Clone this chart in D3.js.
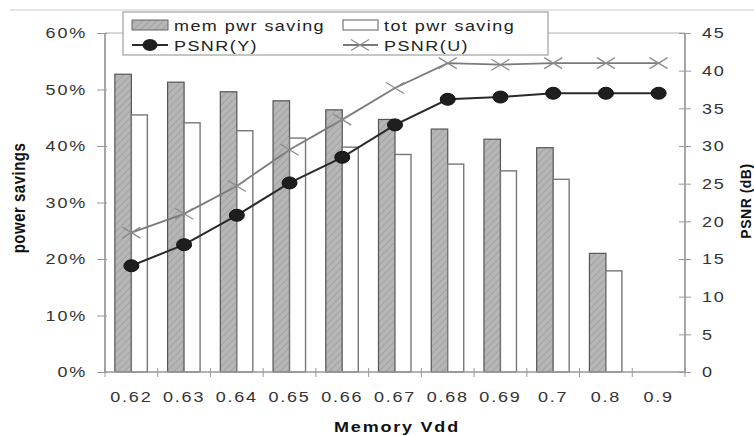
<!DOCTYPE html>
<html>
<head>
<meta charset="utf-8">
<script src="https://cdn.jsdelivr.net/npm/d3@7"></script>
<style>
  html, body { margin: 0; padding: 0; background: #fff; }
  svg { display: block; }
  text { font-family: "Liberation Sans", Arial, sans-serif; }
</style>
</head>
<body>
<svg id="chart" width="754" height="436"></svg>
<script>
const categories = ["0.62", "0.63", "0.64", "0.65", "0.66", "0.67", "0.68", "0.69", "0.7", "0.8", "0.9"];
const memSaving = [52.7, 51.3, 49.6, 48.0, 46.4, 44.7, 43.0, 41.2, 39.7, 21.0, 0];
const totSaving = [45.5, 44.1, 42.7, 41.4, 39.8, 38.5, 36.8, 35.6, 34.1, 17.9, 0];
const psnrY = [14.1, 16.9, 20.8, 25.1, 28.5, 32.8, 36.2, 36.5, 37.0, 37.0, 37.0];
const psnrU = [18.5, 21.0, 24.7, 29.5, 33.5, 37.7, 41.0, 40.8, 41.0, 41.0, 41.0];
const leftTicks = [0, 10, 20, 30, 40, 50, 60];
const rightTicks = [0, 5, 10, 15, 20, 25, 30, 35, 40, 45];

const svg = d3.select("#chart");
const L = 105, R = 685, T = 33, B = 372;
const SX = 1.2;

const x = d3.scaleBand().domain(categories).range([L, R]).paddingInner(0).paddingOuter(0);
const yL = d3.scaleLinear().domain([0, 60]).range([B, T]);
const yR = d3.scaleLinear().domain([0, 45]).range([B, T]);

function stretch(sel) {
  sel.each(function () {
    const t = d3.select(this);
    const xx = +t.attr("x") || 0;
    t.attr("transform", `translate(${xx},0) scale(${SX},1) translate(${-xx},0)`);
  });
}

// defs: hatch pattern
const defs = svg.append("defs");
const pat = defs.append("pattern").attr("id", "hatch").attr("patternUnits", "userSpaceOnUse")
  .attr("width", 5).attr("height", 5).attr("patternTransform", "rotate(45)");
pat.append("rect").attr("width", 5).attr("height", 5).attr("fill", "#b6b6b6");
pat.append("line").attr("x1", 0).attr("y1", 0).attr("x2", 0).attr("y2", 5)
  .attr("stroke", "#a2a2a2").attr("stroke-width", 2);

// chart area top border
svg.append("line").attr("x1", 10).attr("x2", 754).attr("y1", 10).attr("y2", 10)
  .attr("stroke", "#dcdcdc").attr("stroke-width", 1.5);

// plot area top border
svg.append("line").attr("x1", L).attr("x2", R).attr("y1", T).attr("y2", T)
  .attr("stroke", "#b0b0b0").attr("stroke-width", 1.2);

// bars
const barW = 16.5;
const gBars = svg.append("g");
gBars.selectAll("rect.mem").data(categories.map((c, i) => ({ c, v: memSaving[i] })).filter(d => d.v > 0))
  .join("rect").attr("class", "mem")
  .attr("x", d => x(d.c) + x.bandwidth() / 2 - barW)
  .attr("width", barW)
  .attr("y", d => yL(d.v))
  .attr("height", d => yL(0) - yL(d.v))
  .attr("fill", "url(#hatch)").attr("stroke", "#555").attr("stroke-width", 1.2);
gBars.selectAll("rect.tot").data(categories.map((c, i) => ({ c, v: totSaving[i] })).filter(d => d.v > 0))
  .join("rect").attr("class", "tot")
  .attr("x", d => x(d.c) + x.bandwidth() / 2)
  .attr("width", barW - 0.5)
  .attr("y", d => yL(d.v))
  .attr("height", d => yL(0) - yL(d.v))
  .attr("fill", "#fff").attr("stroke", "#777").attr("stroke-width", 1.4);

// axes
const axL = svg.append("g").attr("transform", `translate(${L},0)`)
  .call(d3.axisLeft(yL).tickValues(leftTicks).tickSize(8).tickPadding(10).tickFormat(d => d + "%"));
axL.select(".domain").attr("stroke", "#888").attr("stroke-width", 1.5).attr("d", `M0,${T}V${B}`);
axL.selectAll(".tick line").attr("x1", 2).attr("stroke", "#999");
axL.selectAll(".tick text").attr("font-size", 15).attr("fill", "#333").attr("letter-spacing", 1.5)
  .attr("font-family", "Liberation Sans, Arial, sans-serif").call(stretch);

const axR = svg.append("g").attr("transform", `translate(${R},0)`)
  .call(d3.axisRight(yR).tickValues(rightTicks).tickSize(6).tickPadding(11));
axR.select(".domain").attr("stroke", "#888").attr("stroke-width", 1.5).attr("d", `M0,${T}V${B}`);
axR.selectAll(".tick line").attr("x1", -6).attr("stroke", "#999");
axR.selectAll(".tick text").attr("font-size", 15).attr("fill", "#333").attr("letter-spacing", 1.5)
  .attr("font-family", "Liberation Sans, Arial, sans-serif").call(stretch);

const axB = svg.append("g").attr("transform", `translate(0,${B})`)
  .call(d3.axisBottom(x).tickSize(0).tickPadding(19));
axB.select(".domain").attr("stroke", "#999").attr("stroke-width", 1.5).attr("d", `M${L},0H${R}`);
axB.selectAll(".tick text").attr("font-size", 15).attr("fill", "#333").attr("letter-spacing", 1.5)
  .attr("font-family", "Liberation Sans, Arial, sans-serif").call(stretch);
// boundary ticks
const bounds = categories.map(c => x(c)).concat([R]);
axB.selectAll("line.bt").data(bounds).join("line").attr("class", "bt")
  .attr("x1", d => d).attr("x2", d => d).attr("y1", -4).attr("y2", 5)
  .attr("stroke", "#999").attr("stroke-width", 1);

// lines
const cx = c => x(c) + x.bandwidth() / 2;
const lineU = d3.line().x((d, i) => cx(categories[i])).y(d => yR(d));
const lineY = d3.line().x((d, i) => cx(categories[i])).y(d => yR(d));

svg.append("path").datum(psnrU).attr("d", lineU).attr("fill", "none")
  .attr("stroke", "#7a7a7a").attr("stroke-width", 1.8);
const xm = svg.append("g");
psnrU.forEach((v, i) => {
  const px = cx(categories[i]), py = yR(v);
  xm.append("path").attr("d", `M${px - 9},${py - 5.5}L${px + 9},${py + 5.5}M${px - 9},${py + 5.5}L${px + 9},${py - 5.5}`)
    .attr("stroke", "#8a8a8a").attr("stroke-width", 1.2).attr("fill", "none");
});

svg.append("path").datum(psnrY).attr("d", lineY).attr("fill", "none")
  .attr("stroke", "#2a2a2a").attr("stroke-width", 2);
svg.append("g").selectAll("ellipse").data(psnrY).join("ellipse")
  .attr("cx", (d, i) => cx(categories[i])).attr("cy", d => yR(d))
  .attr("rx", 7.5).attr("ry", 6).attr("fill", "#1e1e1e").attr("stroke", "#111");

// axis titles
svg.append("text").attr("transform", `translate(24.5,198) rotate(-90) scale(1,${SX})`)
  .attr("text-anchor", "middle").attr("font-size", 15).attr("font-weight", "bold")
  .attr("letter-spacing", 0.5).attr("fill", "#111").text("power savings");
svg.append("text").attr("transform", `translate(750.5,201) rotate(-90)`)
  .attr("text-anchor", "middle").attr("font-size", 14).attr("font-weight", "bold")
  .attr("letter-spacing", 0.5).attr("fill", "#111").text("PSNR (dB)");
svg.append("text").attr("x", 397).attr("y", 432).attr("text-anchor", "middle")
  .attr("font-size", 15).attr("font-weight", "bold").attr("letter-spacing", 1.5)
  .attr("fill", "#111").text("Memory Vdd").call(stretch);

// legend
const lg = svg.append("g");
lg.append("rect").attr("x", 123).attr("y", 12).attr("width", 425).attr("height", 43)
  .attr("fill", "#fff").attr("stroke", "#a0a0a0").attr("stroke-width", 1.2);
lg.append("rect").attr("x", 132).attr("y", 20).attr("width", 36).attr("height", 10)
  .attr("fill", "url(#hatch)").attr("stroke", "#666").attr("stroke-width", 1);
lg.append("rect").attr("x", 343).attr("y", 20).attr("width", 35).attr("height", 10)
  .attr("fill", "#fff").attr("stroke", "#777").attr("stroke-width", 1.2);
lg.append("line").attr("x1", 132).attr("x2", 168).attr("y1", 45).attr("y2", 45)
  .attr("stroke", "#2a2a2a").attr("stroke-width", 2);
lg.append("ellipse").attr("cx", 150).attr("cy", 45).attr("rx", 7.5).attr("ry", 6).attr("fill", "#1e1e1e");
lg.append("line").attr("x1", 343).attr("x2", 378).attr("y1", 45).attr("y2", 45)
  .attr("stroke", "#7a7a7a").attr("stroke-width", 1.8);
lg.append("path").attr("d", "M351,39.5L369,50.5M351,50.5L369,39.5")
  .attr("stroke", "#8a8a8a").attr("stroke-width", 1.2);
const legendItems = [
  { t: "mem pwr saving", x: 174, y: 31 },
  { t: "tot pwr saving", x: 384, y: 31 },
  { t: "PSNR(Y)", x: 174, y: 51 },
  { t: "PSNR(U)", x: 384, y: 51 }
];
lg.selectAll("text").data(legendItems).join("text")
  .attr("x", d => d.x).attr("y", d => d.y).attr("font-size", 15).attr("fill", "#222")
  .attr("letter-spacing", 1.2).text(d => d.t).call(stretch);
</script>
</body>
</html>
